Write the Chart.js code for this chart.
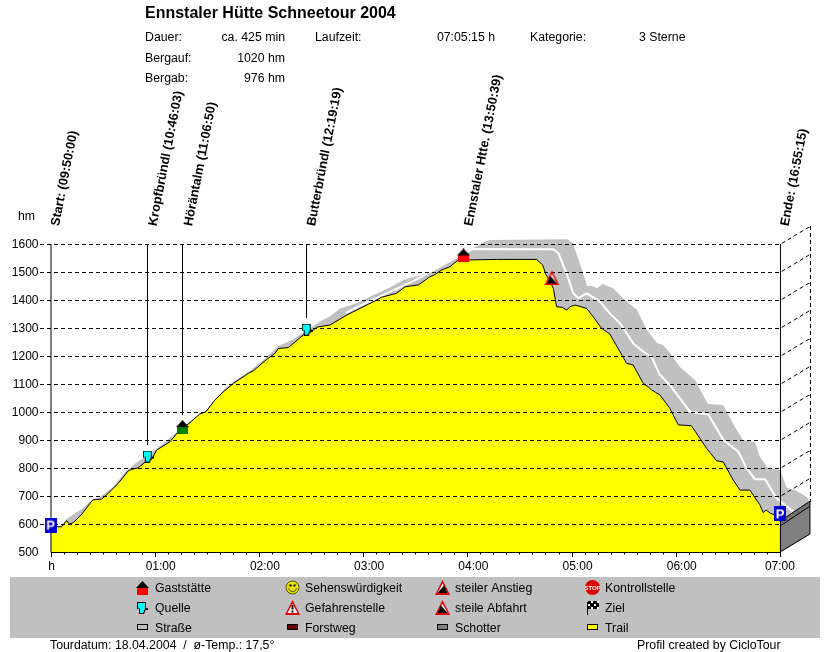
<!DOCTYPE html>
<html>
<head>
<meta charset="utf-8">
<title>Ennstaler Hütte Schneetour 2004</title>
<script src="https://cdn.jsdelivr.net/npm/chart.js@4"></script>
<style>
html, body { margin: 0; background: #fff; }
canvas { display: block; }
</style>
</head>
<body>
<canvas id="profil" width="830" height="652"></canvas>
<script>
// Hoehenprofil (Minuten / Hoehenmeter)
const profilMin = [0, 6.4, 9.3, 10.8, 13.1, 18, 24.3, 29.5, 33.3, 39, 44.8, 46.7, 50.6, 55.4, 58.3, 61.1, 68.8, 73.6, 80.3, 86, 89.5, 94.7, 99.5, 105.3, 113.9, 116.8, 124.5, 129.3, 131.2, 136.9, 145.5, 150.4, 153.3, 161, 170.5, 178.2, 185.9, 190.7, 199.3, 204.1, 211.8, 218.5, 220.8, 225.2, 230, 234.8, 241.5, 256.9, 279.9, 283.4, 285, 289.5, 291.4, 294.7, 297.2, 299.1, 302, 308.7, 312.5, 317.3, 322, 331.7, 335.5, 341.3, 344.2, 346, 350.9, 356.6, 361.5, 369, 377.8, 383.5, 387.3, 393.1, 397, 402.7, 408.5, 410.4, 412, 414.6, 420];
const profilHm = [590, 590, 612, 600, 605, 635, 686, 689, 710, 745, 790, 795, 801, 826, 831, 864, 894, 930, 962, 993, 1001, 1043, 1072, 1102, 1138, 1147, 1188, 1210, 1227, 1230, 1275, 1287, 1303, 1311, 1346, 1370, 1394, 1410, 1424, 1447, 1454, 1483, 1489, 1507, 1519, 1543, 1543, 1545, 1545, 1525, 1495, 1442, 1376, 1374, 1364, 1376, 1382, 1370, 1340, 1299, 1279, 1174, 1168, 1102, 1090, 1079, 1061, 1013, 954, 951, 870, 826, 822, 757, 721, 721, 668, 640, 650, 638, 626];

// Obere Kante des grauen Bandes
const bandMin = [0, 5.5, 10, 18, 24, 28.5, 36, 43, 49.2, 55, 61, 80.3, 89.5, 99.5, 105, 114, 124, 131, 139, 145, 155, 161, 166.7, 176.3, 185.9, 194.5, 203.1, 213.7, 222.3, 233.9, 243.2, 250.2, 253, 297.3, 300.8, 307.7, 308.9, 311.8, 314.6, 318.1, 323.9, 329.6, 337.7, 341.1, 343.4, 349.2, 352.6, 356.7, 362.4, 371.1, 378.5, 387.2, 394.1, 398.7, 405.6, 408.5, 413.1, 420, 424, 428.6, 435.5, 437.3];
const bandHm = [590, 592, 621, 654, 686, 696, 732, 786, 818, 843, 868, 966, 1004, 1079, 1107, 1143, 1193, 1235, 1257, 1282, 1322, 1342, 1370, 1388, 1418, 1442, 1471, 1489, 1513, 1550, 1585, 1608, 1614, 1617, 1603, 1477, 1450, 1450, 1442, 1457, 1442, 1406, 1364, 1321, 1293, 1246, 1239, 1211, 1161, 1114, 1029, 1025, 946, 900, 893, 839, 800, 793, 729, 721, 696, 679];

// Weisse Linie im Band
const weissMin = [170, 178, 192.6, 204, 210, 233, 243.2, 289.5, 292.4, 297.2, 301, 303.9, 308.7, 316.4, 322.1, 327.9, 335.5, 341.3, 346.1, 350.9, 356.7, 368.2, 378.7, 387.4, 396, 400.8, 405.6, 411.4, 418.1, 427.7];
const weissHm = [1354, 1379, 1421, 1454, 1471, 1550, 1582, 1581, 1567, 1495, 1424, 1406, 1424, 1394, 1352, 1317, 1245, 1215, 1197, 1132, 1096, 1001, 992, 900, 858, 799, 760, 760, 692, 644];

// Wegpunkte
const punktMin = [0, 56.3, 76, 147.8, 237.8, 288.7, 420];
const punktHm = [596, 841, 946, 1294, 1559, 1479, 636];
const punktIcon = ['park', 'quelle', 'haus', 'quelle', 'rast', 'abfahrt', 'park'];

const stielMin = [55.85, 76, 147.4];
const stielHm = [882, 989, 1336];

const wegTexte = ['Start: (09:50:00)', 'Kropfbründl (10:46:03)', 'Höräntalm (11:06:50)', 'Butterbründl (12:19:19)', 'Ennstaler Htte. (13:50:39)', 'Ende: (16:55:15)'];
const wegTextMin = [0, 56.1, 76.6, 147.4, 238, 420];

const yTicks = [500, 600, 700, 800, 900, 1000, 1100, 1200, 1300, 1400, 1500, 1600];
const xTicks = [0, 60, 120, 180, 240, 300, 360, 420];
const xLabels = ['h', '01:00', '02:00', '03:00', '04:00', '05:00', '06:00', '07:00'];

const legende = [
    ['rast', 'Gaststätte'], ['smiley', 'Sehenswürdigkeit'], ['anstieg', 'steiler Anstieg'], ['stop', 'Kontrollstelle'],
    ['quelle', 'Quelle'], ['gefahr', 'Gefahrenstelle'], ['abfahrt', 'steile Abfahrt'], ['ziel', 'Ziel'],
    ['strasse', 'Straße'], ['forst', 'Forstweg'], ['schotter', 'Schotter'], ['trail', 'Trail']
];

const SCHRIFT = '"Liberation Sans", Arial, sans-serif';

// Symbole einmal zeichnen, dann fuer Diagramm und Legende benutzen
function icon(w, h, zeichne) {
    const c = document.createElement('canvas');
    c.width = w;
    c.height = h;
    zeichne(c.getContext('2d'));
    return c;
}

function poly(g, punkte, farbe) {
    g.fillStyle = farbe;
    g.beginPath();
    punkte.forEach((p, i) => i ? g.lineTo(p[0], p[1]) : g.moveTo(p[0], p[1]));
    g.closePath();
    g.fill();
}

function haus(farbe) {
    return icon(13, 14, g => {
        poly(g, [[0, 7], [6.5, 0], [13, 7]], '#000');
        g.fillStyle = farbe;
        g.fillRect(1, 7, 11, 7);
    });
}

function warnung(innen) {
    return icon(15, 15, g => {
        poly(g, [[7.5, 0], [15, 15], [0, 15]], '#e00000');
        poly(g, [[7.5, 3.5], [12.5, 13], [2.5, 13]], '#fff');
        innen(g);
    });
}

function swatch(farbe) {
    return icon(12, 7, g => {
        g.fillStyle = farbe;
        g.fillRect(0.5, 0.5, 10, 5);
        g.strokeStyle = '#000';
        g.strokeRect(0.5, 0.5, 10, 5);
    });
}

const icons = {
    haus: haus('#008000'),
    rast: haus('#ff0000'),
    park: icon(12, 15, g => {
        g.fillStyle = '#0000d0';
        g.fillRect(0, 0, 12, 15);
        g.fillStyle = '#fff';
        g.font = 'bold 13px ' + SCHRIFT;
        g.textAlign = 'center';
        g.fillText('P', 6, 12);
    }),
    quelle: icon(11, 12, g => {
        poly(g, [[0, 0], [9, 0], [9, 7], [7, 12], [2, 12], [2, 7], [0, 7]], '#000');
        poly(g, [[1, 1], [8, 1], [8, 6.5], [6, 11], [3, 11], [3, 6.5], [1, 6.5]], '#00ffff');
        g.fillStyle = '#000';
        g.fillRect(9, 6, 2, 2);
    }),
    abfahrt: warnung(g => poly(g, [[6, 5.5], [12.5, 13], [2.5, 13]], '#000')),
    anstieg: warnung(g => poly(g, [[9, 5.5], [12.5, 13], [2.5, 13]], '#000')),
    gefahr: warnung(g => {
        g.fillStyle = '#000';
        g.fillRect(6.5, 5, 2, 4.5);
        g.fillRect(6.5, 10.5, 2, 2);
    }),
    smiley: icon(15, 15, g => {
        g.fillStyle = '#e8e000';
        g.strokeStyle = '#555500';
        g.beginPath();
        g.arc(7.5, 7.5, 6.5, 0, Math.PI * 2);
        g.fill();
        g.stroke();
        g.fillStyle = '#000';
        g.fillRect(4.5, 4.5, 2, 2);
        g.fillRect(8.5, 4.5, 2, 2);
        g.beginPath();
        g.arc(7.5, 7.5, 4, 0.2, Math.PI - 0.2);
        g.stroke();
    }),
    stop: icon(15, 15, g => {
        g.fillStyle = '#e00000';
        g.beginPath();
        g.arc(7.5, 7.5, 7.5, 0, Math.PI * 2);
        g.fill();
        g.fillStyle = '#fff';
        g.font = 'bold 6px ' + SCHRIFT;
        g.textAlign = 'center';
        g.fillText('STOP', 7.5, 10);
    }),
    ziel: icon(15, 15, g => {
        g.fillStyle = '#000';
        g.fillRect(2, 2, 1, 13);
        g.fillRect(3, 1, 11, 8);
        g.fillStyle = '#fff';
        for (let r = 0; r < 3; r++) {
            for (let s = 0; s < 4; s++) {
                if ((r + s) % 2) g.fillRect(3 + s * 3, 1 + r * 3, 2, 2);
            }
        }
    }),
    strasse: swatch('#c0c0c0'),
    forst: swatch('#600000'),
    schotter: swatch('#808080'),
    trail: swatch('#ffff00')
};

function paare(xs, ys) {
    return xs.map((x, i) => ({ x: x, y: ys[i] }));
}

function text(ctx, s, x, y, align, font) {
    ctx.font = font || '12.3px ' + SCHRIFT;
    ctx.textAlign = align || 'left';
    ctx.textBaseline = 'middle';
    ctx.fillStyle = '#000';
    ctx.fillText(s, x, y + 1);
}

// Gitter und Seitenwand liegen ueber der gelben Flaeche, aber unter den Symbolen
const TIEFE_X = 30, TIEFE_Y = 18;
const gitter = {
    id: 'gitter',
    afterDatasetDraw(chart, args) {
        if (chart.data.datasets[args.index].label !== 'Profil') return;
        const { ctx, scales: { x, y } } = chart;
        const links = x.getPixelForValue(0), rechts = x.getPixelForValue(420);
        const oben = y.getPixelForValue(1600), unten = y.getPixelForValue(500);
        ctx.save();
        ctx.strokeStyle = '#000';
        ctx.lineWidth = 1;
        ctx.setLineDash([4, 3]);
        yTicks.forEach(v => {
            if (v === 500) return;
            const py = Math.round(y.getPixelForValue(v)) + 0.5;
            ctx.beginPath();
            ctx.moveTo(40, py);
            ctx.lineTo(rechts, py);
            ctx.lineTo(rechts + TIEFE_X, py - TIEFE_Y);
            ctx.stroke();
        });
        ctx.beginPath();
        ctx.moveTo(rechts + TIEFE_X + 0.5, oben - TIEFE_Y);
        ctx.lineTo(rechts + TIEFE_X + 0.5, unten - 50);
        ctx.stroke();
        ctx.setLineDash([]);

        // Seitenwand
        const wandOben = y.getPixelForValue(610);
        poly(ctx, [[rechts, unten + 1], [rechts + TIEFE_X + 1, unten - TIEFE_Y], [rechts + TIEFE_X + 1, unten + 1]], '#fff');
        poly(ctx, [[rechts, wandOben], [rechts + TIEFE_X, wandOben - 20], [rechts + TIEFE_X, unten - TIEFE_Y], [rechts, unten]], '#808080');
        poly(ctx, [[rechts, wandOben], [rechts + TIEFE_X, wandOben - 20], [rechts + TIEFE_X, wandOben - 15], [rechts, wandOben + 5]], '#707070');
        ctx.beginPath();
        ctx.moveTo(rechts, wandOben);
        ctx.lineTo(rechts + TIEFE_X, wandOben - 20);
        ctx.lineTo(rechts + TIEFE_X, unten - TIEFE_Y);
        ctx.lineTo(rechts, unten);
        ctx.moveTo(rechts, wandOben + 5);
        ctx.lineTo(rechts + TIEFE_X, wandOben - 15);
        ctx.stroke();

        // Achsen
        ctx.beginPath();
        ctx.moveTo(links + 0.5, oben);
        ctx.lineTo(links + 0.5, unten + 0.5);
        ctx.lineTo(rechts + 0.5, unten + 0.5);
        ctx.lineTo(rechts + 0.5, oben);
        ctx.stroke();

        // Striche an der Zeitachse, acht pro Stunde
        for (let m = 0; m <= 420; m += 7.5) {
            const px = Math.round(x.getPixelForValue(m)) + 0.5;
            ctx.beginPath();
            ctx.moveTo(px, unten);
            ctx.lineTo(px, unten + (m % 60 === 0 ? 5 : 2.5));
            ctx.stroke();
        }
        ctx.restore();
    },
    afterDraw(chart) {
        const { ctx, scales: { x } } = chart;
        ctx.save();
        text(ctx, 'Ennstaler Hütte Schneetour 2004', 145, 13, 'left', 'bold 16px ' + SCHRIFT);
        text(ctx, 'Dauer:', 145, 37);
        text(ctx, 'ca. 425 min', 285, 37, 'right');
        text(ctx, 'Laufzeit:', 315, 37);
        text(ctx, '07:05:15 h', 495, 37, 'right');
        text(ctx, 'Kategorie:', 530, 37);
        text(ctx, '3 Sterne', 639, 37);
        text(ctx, 'Bergauf:', 145, 58);
        text(ctx, '1020 hm', 285, 58, 'right');
        text(ctx, 'Bergab:', 145, 78);
        text(ctx, '976 hm', 285, 78, 'right');
        text(ctx, 'hm', 18, 216);
        text(ctx, xLabels[0], x.getPixelForValue(0) + 1, 566, 'center', '12px ' + SCHRIFT);
        text(ctx, xLabels[7], x.getPixelForValue(420), 566, 'center', '12px ' + SCHRIFT);

        // Wegpunkte, schraeg gestellt
        wegTexte.forEach((s, i) => {
            ctx.save();
            ctx.translate(x.getPixelForValue(wegTextMin[i]) + 6, 226);
            ctx.rotate(-79 * Math.PI / 180);
            text(ctx, s, 0, -2, 'left', 'bold 12.8px ' + SCHRIFT);
            ctx.restore();
        });

        // Legende
        ctx.fillStyle = '#c0c0c0';
        ctx.fillRect(10, 577, 810, 61);
        legende.forEach((e, i) => {
            const sp = i % 4, ze = Math.floor(i / 4);
            const bild = icons[e[0]];
            const mx = 142.5 + sp * 150, my = 587.5 + ze * 20;
            ctx.drawImage(bild, Math.round(mx - bild.width / 2), Math.round(my - bild.height / 2));
            text(ctx, e[1], 155 + sp * 150, my);
        });
        text(ctx, 'Tourdatum: 18.04.2004  /  ø-Temp.: 17,5°', 50, 645);
        text(ctx, 'Profil created by CicloTour', 637, 645);
        ctx.restore();
    }
};

const stielDaten = [];
stielMin.forEach((m, i) => {
    stielDaten.push({ x: m, y: 1600 }, { x: m, y: stielHm[i] }, { x: m, y: null });
});

new Chart(document.getElementById('profil').getContext('2d'), {
    type: 'line',
    data: {
        datasets: [
            {
                label: 'Wegpunkte',
                data: paare(punktMin, punktHm),
                showLine: false,
                clip: false,
                pointStyle: punktIcon.map(n => icons[n]),
                pointRadius: 7
            },
            {
                label: 'Stiele',
                data: stielDaten,
                borderColor: '#000',
                borderWidth: 1,
                pointRadius: 0,
                spanGaps: false
            },
            {
                label: 'Profil',
                data: paare(profilMin, profilHm),
                borderColor: '#000',
                borderWidth: 1,
                backgroundColor: '#ffff00',
                fill: 'origin',
                pointRadius: 0,
                tension: 0
            },
            {
                label: 'Mitte',
                data: paare(weissMin, weissHm),
                borderColor: '#fff',
                borderWidth: 2,
                pointRadius: 0,
                tension: 0
            },
            {
                label: 'Band',
                data: paare(bandMin, bandHm),
                borderWidth: 0,
                backgroundColor: '#c0c0c0',
                fill: 'origin',
                pointRadius: 0,
                tension: 0
            }
        ]
    },
    options: {
        responsive: false,
        animation: false,
        layout: { padding: { left: 0, top: 226, right: 20, bottom: 0 } },
        plugins: { legend: { display: false }, tooltip: { enabled: false } },
        scales: {
            x: {
                type: 'linear',
                min: 0,
                max: 437.3,
                afterBuildTicks: s => { s.ticks = xTicks.map(v => ({ value: v })); },
                afterFit: s => { s.height = 100; },
                grid: { display: false, drawTicks: false },
                border: { display: false },
                ticks: {
                    autoSkip: false,
                    maxRotation: 0,
                    padding: 7,
                    labelOffset: 6,
                    color: '#000',
                    font: { family: SCHRIFT, size: 12 },
                    callback: (v, i) => (v === 0 || v === 420) ? '' : xLabels[i]
                }
            },
            y: {
                type: 'linear',
                min: 500,
                max: 1664.3,
                afterBuildTicks: s => { s.ticks = yTicks.map(v => ({ value: v })); },
                afterFit: s => { s.width = 50.5; },
                grid: { display: false, drawTicks: false },
                border: { display: false },
                ticks: {
                    padding: 12,
                    labelOffset: 1,
                    color: '#000',
                    font: { family: SCHRIFT, size: 12 },
                    callback: v => String(v)
                }
            }
        }
    },
    plugins: [gitter]
});
</script>
</body>
</html>
